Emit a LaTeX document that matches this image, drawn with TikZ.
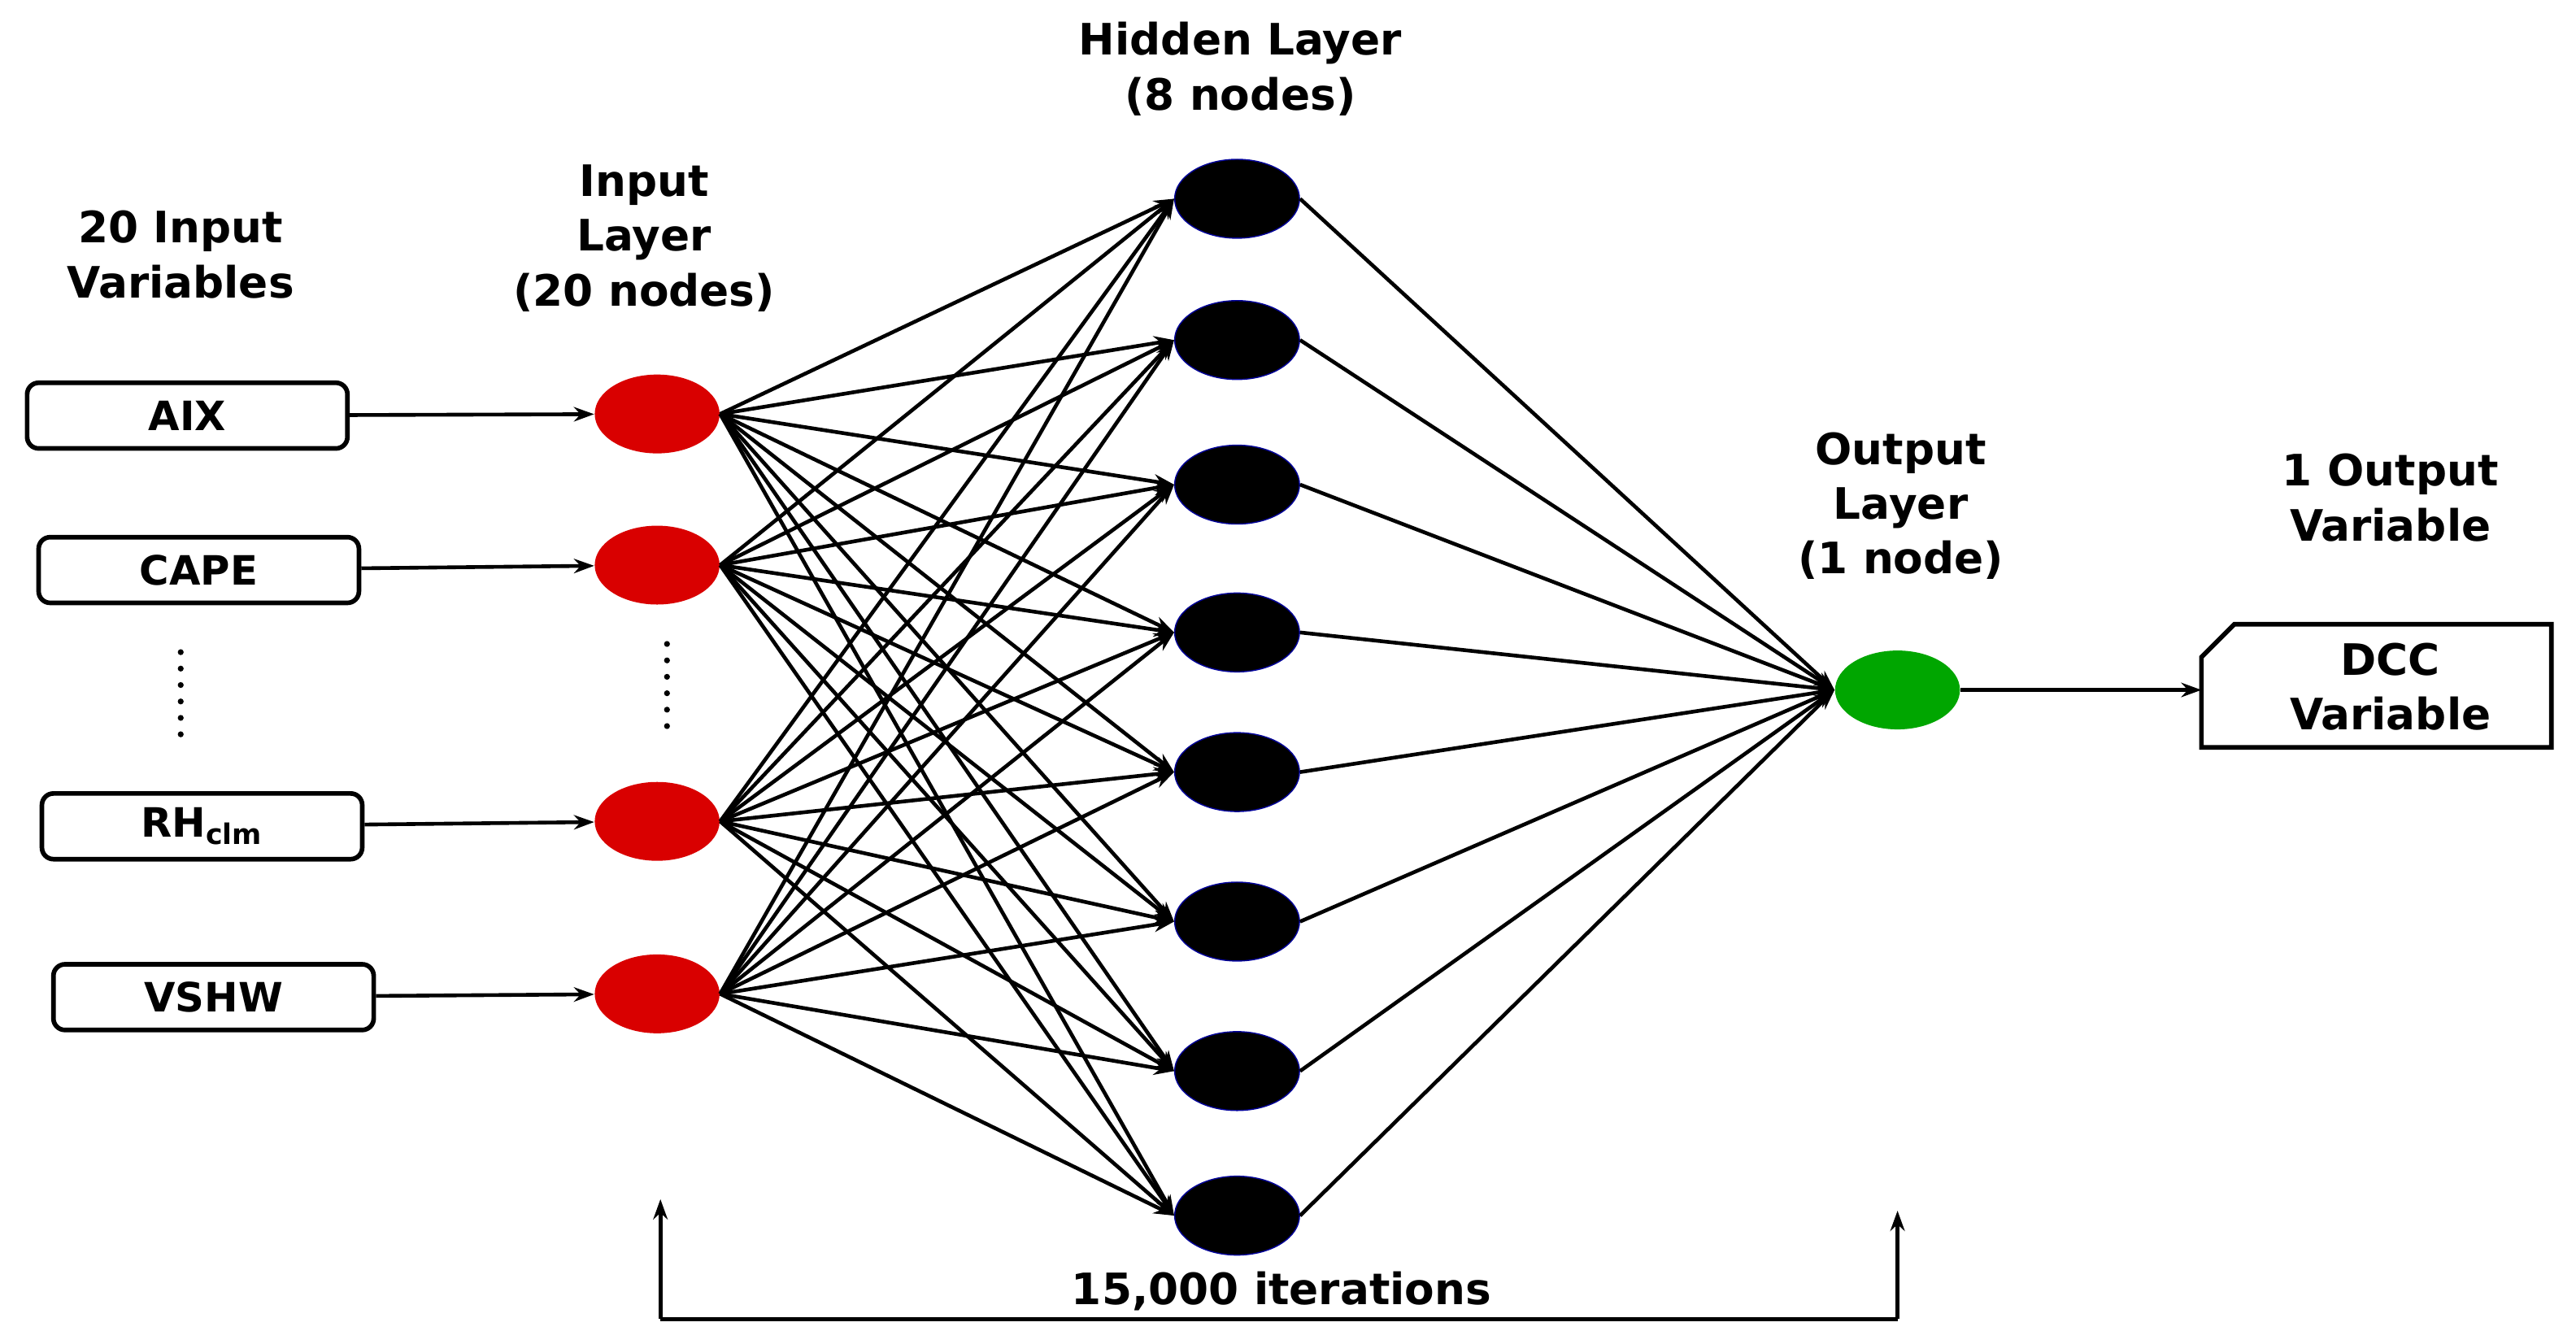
\documentclass[tikz,border=0pt]{standalone}
\usepackage{fontspec}
\setmainfont{DejaVu Sans}
\usetikzlibrary{arrows.meta,shapes.geometric}
\begin{document}
\begin{tikzpicture}[x=0.02cm,y=-0.02cm,
  lab/.style={font=\fontsize{15}{19}\selectfont\bfseries,align=center},
  box/.style={draw,line width=1.6pt,rounded corners=4pt,minimum width=3.9cm,minimum height=0.8cm,font=\fontsize{14}{17}\selectfont\bfseries},
  inn/.style={ellipse,fill=red!85!black,minimum width=1.52cm,minimum height=0.96cm,inner sep=0},
  hid/.style={ellipse,fill=black,draw=blue!60!black,line width=0.4pt,minimum width=1.52cm,minimum height=0.96cm,inner sep=0},
  outn/.style={ellipse,fill=green!65!black,minimum width=1.52cm,minimum height=0.96cm,inner sep=0},
  con/.style={line width=1.3pt,-{Stealth[length=7pt,width=5pt]}},
  ln/.style={line width=1.3pt}]
\useasboundingbox (0,0) rectangle (1568,818);
\node[box] (b1) at (114,253) {AIX};
\node[box] (b2) at (121,347) {CAPE};
\node[box] (b3) at (123,503) {RH\textsubscript{clm}};
\node[box] (b4) at (130,607) {VSHW};
\node[inn] (i1) at (400,252) {};
\node[inn] (i2) at (400,344) {};
\node[inn] (i3) at (400,500) {};
\node[inn] (i4) at (400,605) {};
\foreach \k in {1,...,4} \draw[con] (b\k) -- (i\k);
\foreach \y [count=\k] in {121,207,295,385,470,561,652,740} \node[hid] (h\k) at (753,\y) {};
\node[outn] (o) at (1155,420) {};
\foreach \i in {1,...,4} \foreach \h in {1,...,8} \draw[con] (i\i.east) -- (h\h.west);
\foreach \h in {1,...,8} \draw[con] (h\h.east) -- (o.west);
\draw[line width=1.6pt] (1340,400) -- (1360,380) -- (1553,380) -- (1553,455) -- (1340,455) -- cycle;
\node[lab] (dcc) at (1455,418) {DCC\\Variable};
\draw[con] (o) -- (1340,420);
\foreach \yy in {0,...,5} \fill (110,397+\yy*10) circle (1.8);
\foreach \yy in {0,...,5} \fill (406,392+\yy*10) circle (1.8);
\node[lab] (t1) at (110,155) {20 Input\\Variables};
\node[lab] (t2) at (392,145) {Input\\Layer\\(20 nodes)};
\node[lab] (t3) at (755,42) {Hidden Layer\\(8 nodes)};
\node[lab] (t4) at (1157,308) {Output\\Layer\\(1 node)};
\node[lab] (t5) at (1455,303) {1 Output\\Variable};
\coordinate (a1) at (402,730);
\coordinate (a2) at (1155,737);
\draw[con] (402,803) -- (a1);
\draw[ln] (402,803) -- (1155,803);
\draw[con] (1155,803) -- (a2);
\node[lab] (it) at (780,786) {15,000 iterations};
\end{tikzpicture}
\end{document}
